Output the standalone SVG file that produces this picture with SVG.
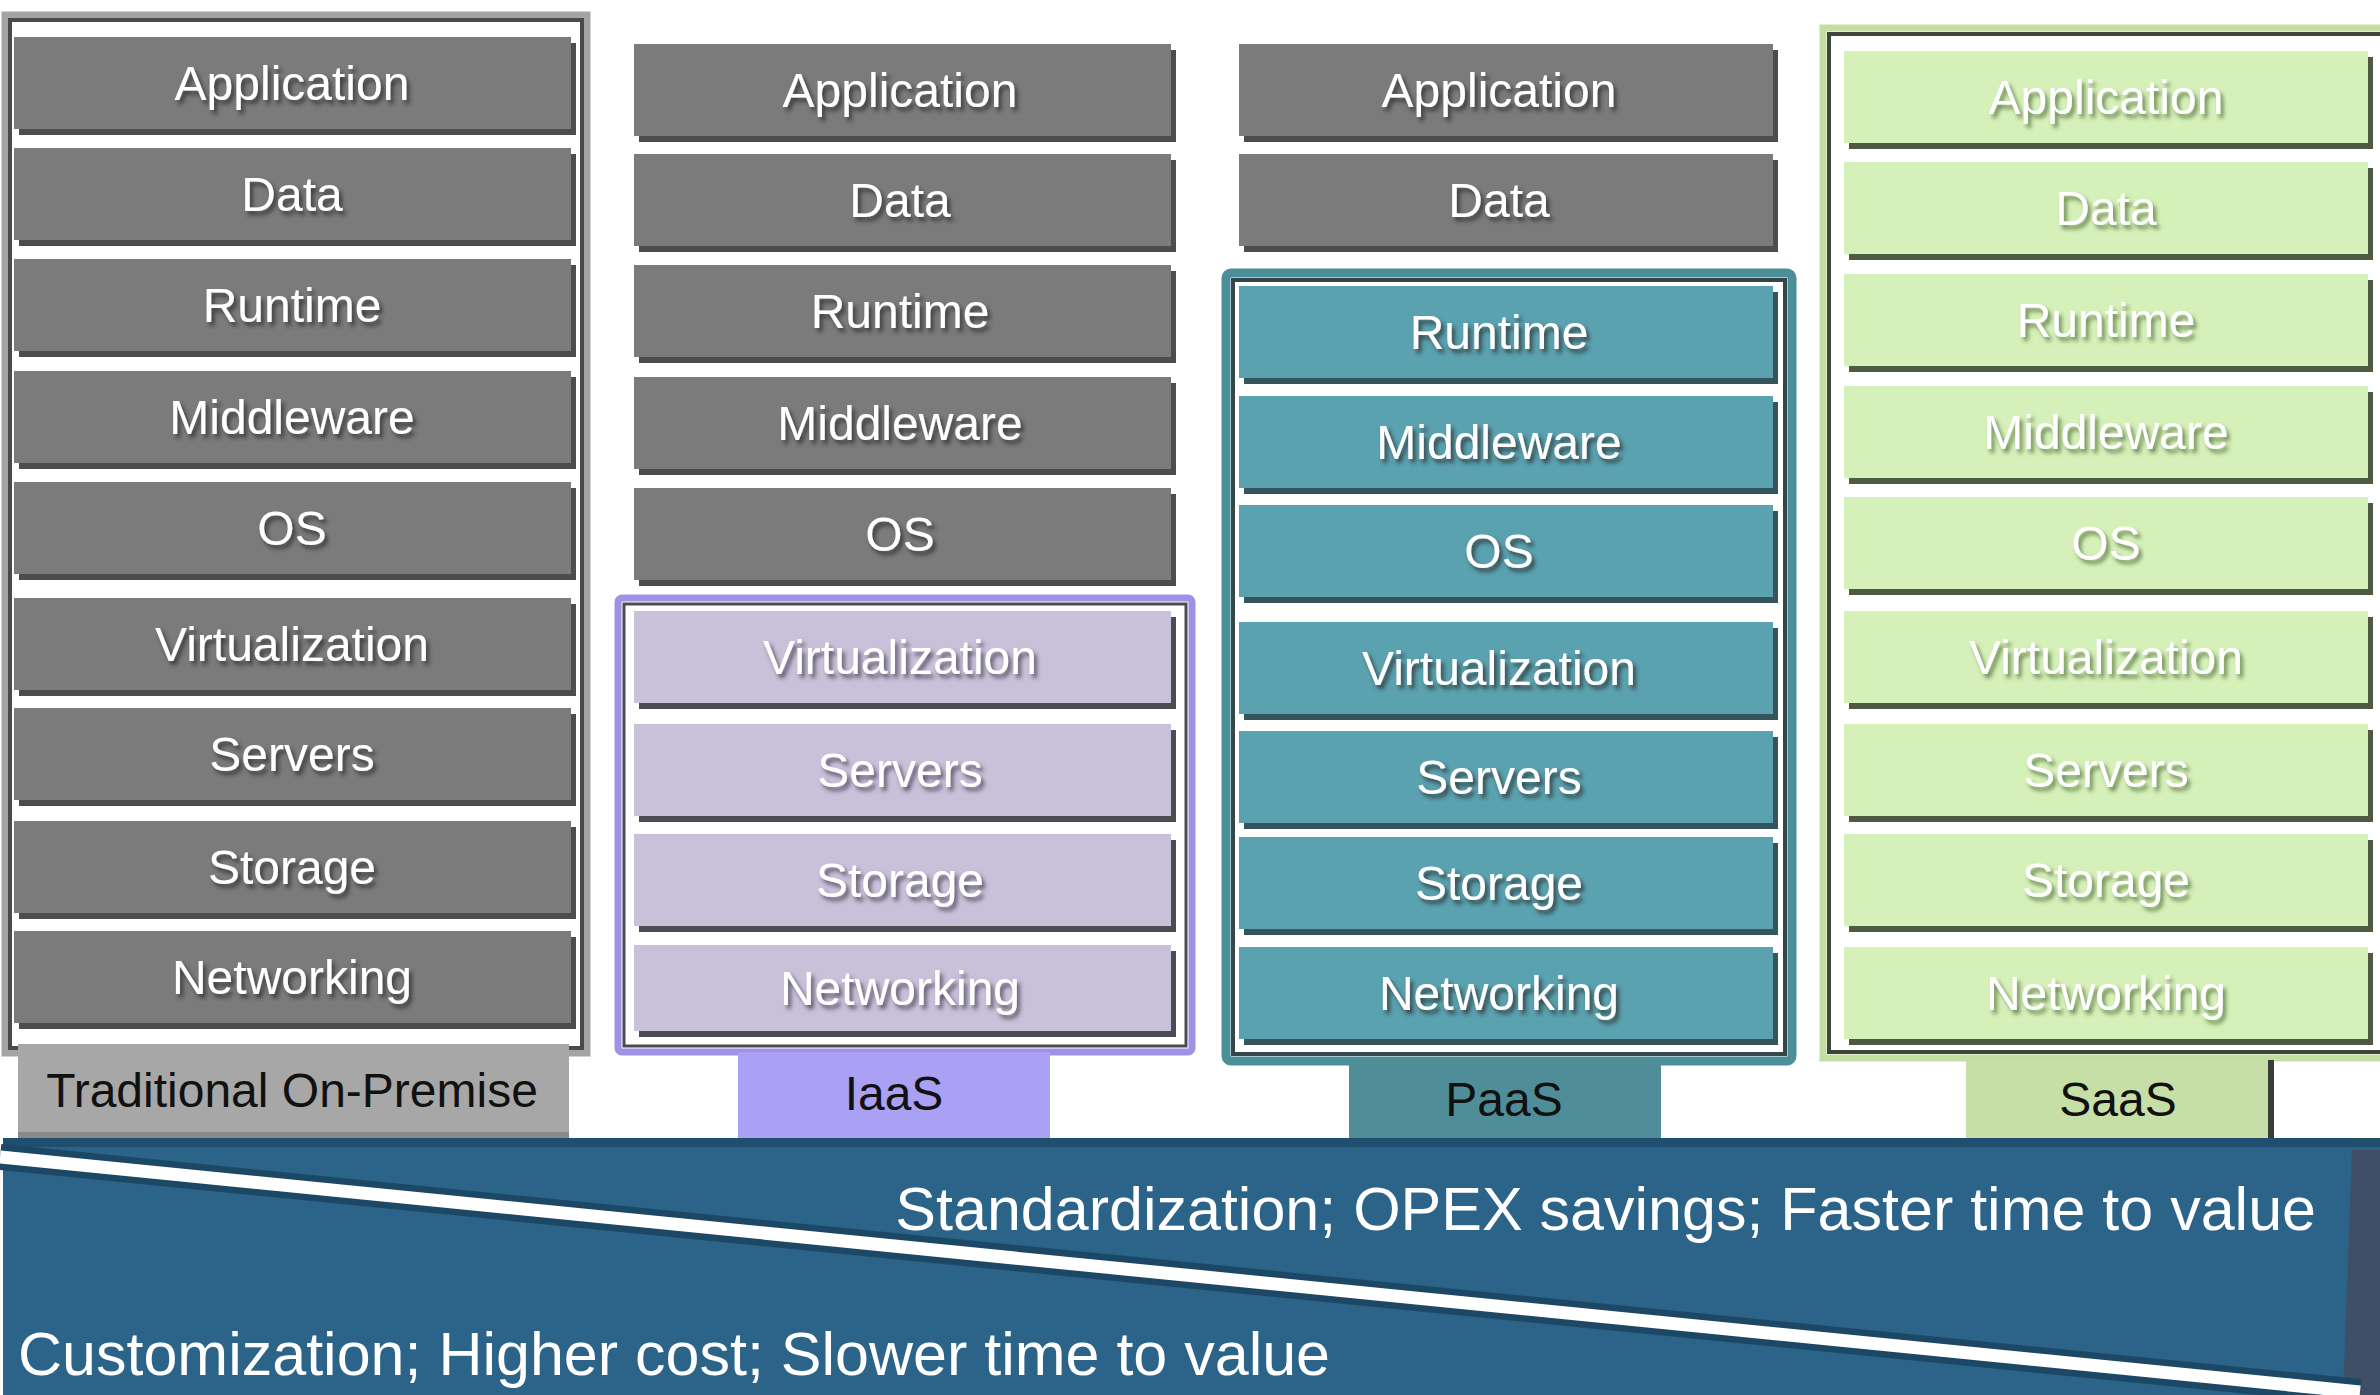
<svg xmlns="http://www.w3.org/2000/svg" width="2380" height="1395" viewBox="0 0 2380 1395">
<defs>
<filter id="ts" x="-10%" y="-30%" width="120%" height="160%"><feDropShadow dx="3" dy="4" stdDeviation="2" flood-color="#2a2a2a" flood-opacity="0.8"/></filter>
<filter id="tsg" x="-10%" y="-30%" width="120%" height="160%"><feDropShadow dx="3" dy="4" stdDeviation="2" flood-color="#5f7d45" flood-opacity="0.9"/></filter>
<filter id="tsp" x="-10%" y="-30%" width="120%" height="160%"><feDropShadow dx="3" dy="4" stdDeviation="2" flood-color="#4a4458" flood-opacity="0.85"/></filter>
<style>
.t{font-family:"Liberation Sans",Arial,sans-serif;font-size:48px;fill:#ffffff;text-anchor:middle}
.lbl{font-family:"Liberation Sans",Arial,sans-serif;font-size:48px;fill:#111111;text-anchor:middle}
.big{font-family:"Liberation Sans",Arial,sans-serif;font-size:61px;fill:#ffffff}
.gray{fill:#7b7b7b}.graysh{fill:#4d4d4d}
.pur{fill:#c9c0d9}.pursh{fill:#4c4c55}
.teal{fill:#5aa2b0}.tealsh{fill:#34555c}
.grn{fill:#d6f0b9}.grnsh{fill:#4d5a44}
</style>
</defs>
<rect x="0" y="0" width="2380" height="1395" fill="#ffffff"/>

<!-- Banner -->
<g id="banner">
<rect x="3" y="1138" width="2377" height="257" fill="#2c6388"/>
<rect x="3" y="1138" width="2377" height="9" fill="#1f4e6e"/>
<polygon points="2352,1150 2380,1150 2380,1395 2343,1395" fill="#3f4f66"/>
<line x1="0" y1="1157" x2="2360" y2="1392" stroke="#1c4866" stroke-width="26"/>
<line x1="0" y1="1157" x2="2360" y2="1392" stroke="#ffffff" stroke-width="13"/>
<text class="big" x="2316" y="1230" text-anchor="end">Standardization; OPEX savings; Faster time to value</text>
<text class="big" x="18" y="1375">Customization; Higher cost; Slower time to value</text>
</g>

<!-- Traditional On-Premise -->
<g id="col-traditional">
<rect x="5" y="15" width="582" height="1038" fill="#ffffff" stroke="#a3a3a3" stroke-width="7"/>
<rect x="10" y="20" width="572" height="1028" fill="none" stroke="#4a4a4a" stroke-width="4"/>
<g id="trad-application"><rect class="graysh" x="19" y="43" width="557" height="92"/><rect class="gray" x="14" y="37" width="557" height="92"/><text class="t" filter="url(#ts)" x="292" y="100">Application</text></g>
<g id="trad-data"><rect class="graysh" x="19" y="154" width="557" height="92"/><rect class="gray" x="14" y="148" width="557" height="92"/><text class="t" filter="url(#ts)" x="292" y="211">Data</text></g>
<g id="trad-runtime"><rect class="graysh" x="19" y="265" width="557" height="92"/><rect class="gray" x="14" y="259" width="557" height="92"/><text class="t" filter="url(#ts)" x="292" y="322">Runtime</text></g>
<g id="trad-middleware"><rect class="graysh" x="19" y="377" width="557" height="92"/><rect class="gray" x="14" y="371" width="557" height="92"/><text class="t" filter="url(#ts)" x="292" y="434">Middleware</text></g>
<g id="trad-os"><rect class="graysh" x="19" y="488" width="557" height="92"/><rect class="gray" x="14" y="482" width="557" height="92"/><text class="t" filter="url(#ts)" x="292" y="545">OS</text></g>
<g id="trad-virtualization"><rect class="graysh" x="19" y="604" width="557" height="92"/><rect class="gray" x="14" y="598" width="557" height="92"/><text class="t" filter="url(#ts)" x="292" y="661">Virtualization</text></g>
<g id="trad-servers"><rect class="graysh" x="19" y="714" width="557" height="92"/><rect class="gray" x="14" y="708" width="557" height="92"/><text class="t" filter="url(#ts)" x="292" y="771">Servers</text></g>
<g id="trad-storage"><rect class="graysh" x="19" y="827" width="557" height="92"/><rect class="gray" x="14" y="821" width="557" height="92"/><text class="t" filter="url(#ts)" x="292" y="884">Storage</text></g>
<g id="trad-networking"><rect class="graysh" x="19" y="937" width="557" height="92"/><rect class="gray" x="14" y="931" width="557" height="92"/><text class="t" filter="url(#ts)" x="292" y="994">Networking</text></g>
<g id="label-traditional"><rect x="18" y="1044" width="551" height="94" fill="#a7a7a7"/><rect x="18" y="1132" width="551" height="6" fill="#8a8a8a"/><text class="lbl" x="292" y="1107">Traditional On-Premise</text></g>
</g>

<!-- IaaS -->
<g id="col-iaas">
<g id="iaas-application"><rect class="graysh" x="639" y="50" width="537" height="92"/><rect class="gray" x="634" y="44" width="537" height="92"/><text class="t" filter="url(#ts)" x="900" y="107">Application</text></g>
<g id="iaas-data"><rect class="graysh" x="639" y="160" width="537" height="92"/><rect class="gray" x="634" y="154" width="537" height="92"/><text class="t" filter="url(#ts)" x="900" y="217">Data</text></g>
<g id="iaas-runtime"><rect class="graysh" x="639" y="271" width="537" height="92"/><rect class="gray" x="634" y="265" width="537" height="92"/><text class="t" filter="url(#ts)" x="900" y="328">Runtime</text></g>
<g id="iaas-middleware"><rect class="graysh" x="639" y="383" width="537" height="92"/><rect class="gray" x="634" y="377" width="537" height="92"/><text class="t" filter="url(#ts)" x="900" y="440">Middleware</text></g>
<g id="iaas-os"><rect class="graysh" x="639" y="494" width="537" height="92"/><rect class="gray" x="634" y="488" width="537" height="92"/><text class="t" filter="url(#ts)" x="900" y="551">OS</text></g>
<g id="iaas-frame">
<rect x="618" y="598" width="574" height="454" rx="4" fill="#ffffff" stroke="#9e92e6" stroke-width="7"/>
<rect x="624" y="604" width="562" height="442" fill="none" stroke="#4b4b55" stroke-width="3"/>
</g>
<g id="iaas-virtualization"><rect class="pursh" x="639" y="617" width="537" height="92"/><rect class="pur" x="634" y="611" width="537" height="92"/><text class="t" filter="url(#tsp)" x="900" y="674">Virtualization</text></g>
<g id="iaas-servers"><rect class="pursh" x="639" y="730" width="537" height="92"/><rect class="pur" x="634" y="724" width="537" height="92"/><text class="t" filter="url(#tsp)" x="900" y="787">Servers</text></g>
<g id="iaas-storage"><rect class="pursh" x="639" y="840" width="537" height="92"/><rect class="pur" x="634" y="834" width="537" height="92"/><text class="t" filter="url(#tsp)" x="900" y="897">Storage</text></g>
<g id="iaas-networking"><rect class="pursh" x="639" y="951" width="537" height="86"/><rect class="pur" x="634" y="945" width="537" height="86"/><text class="t" filter="url(#tsp)" x="900" y="1005">Networking</text></g>
<g id="label-iaas"><rect x="738" y="1052" width="312" height="86" fill="#aaa1f5"/><text class="lbl" x="894" y="1110">IaaS</text></g>
</g>

<!-- PaaS -->
<g id="col-paas">
<g id="paas-application"><rect class="graysh" x="1244" y="50" width="534" height="92"/><rect class="gray" x="1239" y="44" width="534" height="92"/><text class="t" filter="url(#ts)" x="1499" y="107">Application</text></g>
<g id="paas-data"><rect class="graysh" x="1244" y="160" width="534" height="92"/><rect class="gray" x="1239" y="154" width="534" height="92"/><text class="t" filter="url(#ts)" x="1499" y="217">Data</text></g>
<g id="paas-frame">
<rect x="1226" y="273" width="566" height="788" rx="5" fill="#ffffff" stroke="#4b8f9b" stroke-width="9"/>
<rect x="1233" y="280" width="552" height="774" fill="none" stroke="#34474b" stroke-width="4"/>
</g>
<g id="paas-runtime"><rect class="tealsh" x="1244" y="292" width="534" height="92"/><rect class="teal" x="1239" y="286" width="534" height="92"/><text class="t" filter="url(#ts)" x="1499" y="349">Runtime</text></g>
<g id="paas-middleware"><rect class="tealsh" x="1244" y="402" width="534" height="92"/><rect class="teal" x="1239" y="396" width="534" height="92"/><text class="t" filter="url(#ts)" x="1499" y="459">Middleware</text></g>
<g id="paas-os"><rect class="tealsh" x="1244" y="511" width="534" height="92"/><rect class="teal" x="1239" y="505" width="534" height="92"/><text class="t" filter="url(#ts)" x="1499" y="568">OS</text></g>
<g id="paas-virtualization"><rect class="tealsh" x="1244" y="628" width="534" height="92"/><rect class="teal" x="1239" y="622" width="534" height="92"/><text class="t" filter="url(#ts)" x="1499" y="685">Virtualization</text></g>
<g id="paas-servers"><rect class="tealsh" x="1244" y="737" width="534" height="92"/><rect class="teal" x="1239" y="731" width="534" height="92"/><text class="t" filter="url(#ts)" x="1499" y="794">Servers</text></g>
<g id="paas-storage"><rect class="tealsh" x="1244" y="843" width="534" height="92"/><rect class="teal" x="1239" y="837" width="534" height="92"/><text class="t" filter="url(#ts)" x="1499" y="900">Storage</text></g>
<g id="paas-networking"><rect class="tealsh" x="1244" y="953" width="534" height="92"/><rect class="teal" x="1239" y="947" width="534" height="92"/><text class="t" filter="url(#ts)" x="1499" y="1010">Networking</text></g>
<g id="label-paas"><rect x="1349" y="1060" width="312" height="78" fill="#4f8e98"/><text class="lbl" x="1504" y="1116">PaaS</text></g>
</g>

<!-- SaaS -->
<g id="col-saas">
<g id="saas-frame">
<rect x="1823" y="28" width="570" height="1030" fill="#ffffff" stroke="#c3dea3" stroke-width="7"/>
<rect x="1829" y="34" width="560" height="1018" fill="none" stroke="#3e463a" stroke-width="4"/>
</g>
<g id="saas-application"><rect class="grnsh" x="1849" y="57" width="524" height="92"/><rect class="grn" x="1844" y="51" width="524" height="92"/><text class="t" filter="url(#tsg)" x="2106" y="114">Application</text></g>
<g id="saas-data"><rect class="grnsh" x="1849" y="168" width="524" height="92"/><rect class="grn" x="1844" y="162" width="524" height="92"/><text class="t" filter="url(#tsg)" x="2106" y="225">Data</text></g>
<g id="saas-runtime"><rect class="grnsh" x="1849" y="280" width="524" height="92"/><rect class="grn" x="1844" y="274" width="524" height="92"/><text class="t" filter="url(#tsg)" x="2106" y="337">Runtime</text></g>
<g id="saas-middleware"><rect class="grnsh" x="1849" y="392" width="524" height="92"/><rect class="grn" x="1844" y="386" width="524" height="92"/><text class="t" filter="url(#tsg)" x="2106" y="449">Middleware</text></g>
<g id="saas-os"><rect class="grnsh" x="1849" y="503" width="524" height="92"/><rect class="grn" x="1844" y="497" width="524" height="92"/><text class="t" filter="url(#tsg)" x="2106" y="560">OS</text></g>
<g id="saas-virtualization"><rect class="grnsh" x="1849" y="617" width="524" height="92"/><rect class="grn" x="1844" y="611" width="524" height="92"/><text class="t" filter="url(#tsg)" x="2106" y="674">Virtualization</text></g>
<g id="saas-servers"><rect class="grnsh" x="1849" y="730" width="524" height="92"/><rect class="grn" x="1844" y="724" width="524" height="92"/><text class="t" filter="url(#tsg)" x="2106" y="787">Servers</text></g>
<g id="saas-storage"><rect class="grnsh" x="1849" y="840" width="524" height="92"/><rect class="grn" x="1844" y="834" width="524" height="92"/><text class="t" filter="url(#tsg)" x="2106" y="897">Storage</text></g>
<g id="saas-networking"><rect class="grnsh" x="1849" y="953" width="524" height="92"/><rect class="grn" x="1844" y="947" width="524" height="92"/><text class="t" filter="url(#tsg)" x="2106" y="1010">Networking</text></g>
<g id="label-saas"><rect x="1966" y="1060" width="308" height="78" fill="#c6dfa7"/><rect x="2268" y="1060" width="6" height="78" fill="#3b3b3b"/><text class="lbl" x="2118" y="1116">SaaS</text></g>
</g>

<g id="connectors"></g>
</svg>
